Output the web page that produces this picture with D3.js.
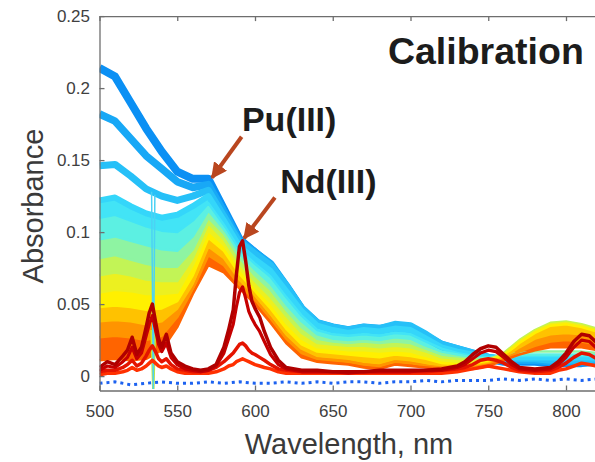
<!DOCTYPE html>
<html><head><meta charset="utf-8">
<script src="https://cdn.jsdelivr.net/npm/d3@7"></script>
<style>body{margin:0;background:#fff}svg{display:block}</style>
</head><body>
<svg id="chart" width="595" height="462"></svg>
<script>
// ---------- DATA ----------
const wavelengths = [500,510,520,530,540,550,560,570,580,590,600,610,620,630,640,650,660,670,680,690,700,710,720,730,740,750,760,770,780,790,800,810,820];
// Pu(III) calibration spectra (top = highest absorbance at 500 nm)
const pu1  = [0.214,0.208,0.190,0.172,0.156,0.142,0.137,0.137,0.116,0.095,0.086,0.077,0.062,0.046,0.036,0.033,0.031,0.033,0.032,0.034,0.033,0.027,0.021,0.018,0.015,0.012,0.010,0.010,0.010,0.009,0.009,0.009,0.010];
const pu2  = [0.182,0.177,0.165,0.153,0.144,0.135,0.131,0.133,0.114,0.094,0.086,0.078,0.063,0.047,0.037,0.034,0.032,0.034,0.033,0.035,0.034,0.028,0.022,0.019,0.016,0.013,0.011,0.011,0.011,0.010,0.010,0.010,0.011];
const pu3  = [0.146,0.147,0.139,0.130,0.125,0.122,0.125,0.129,0.111,0.093,0.085,0.077,0.063,0.047,0.037,0.034,0.032,0.034,0.033,0.036,0.035,0.029,0.022,0.019,0.016,0.013,0.012,0.012,0.012,0.011,0.011,0.011,0.012];
const pu4  = [0.122,0.124,0.118,0.113,0.110,0.112,0.118,0.125,0.108,0.090,0.081,0.073,0.059,0.045,0.035,0.032,0.030,0.032,0.031,0.033,0.032,0.026,0.020,0.017,0.015,0.013,0.012,0.013,0.013,0.013,0.013,0.013,0.013];
const pu5  = [0.110,0.112,0.108,0.104,0.101,0.100,0.108,0.120,0.105,0.088,0.078,0.069,0.055,0.042,0.032,0.029,0.028,0.029,0.028,0.030,0.029,0.024,0.019,0.016,0.014,0.013,0.013,0.014,0.014,0.014,0.014,0.014,0.014];
const pu6  = [0.095,0.097,0.094,0.091,0.088,0.087,0.097,0.115,0.102,0.085,0.074,0.064,0.050,0.038,0.029,0.026,0.025,0.026,0.025,0.027,0.026,0.021,0.017,0.015,0.013,0.012,0.014,0.015,0.015,0.015,0.015,0.015,0.015];
const pu7  = [0.082,0.084,0.081,0.078,0.076,0.076,0.088,0.110,0.099,0.082,0.070,0.060,0.046,0.034,0.026,0.024,0.023,0.024,0.023,0.024,0.023,0.019,0.015,0.013,0.012,0.012,0.015,0.016,0.017,0.017,0.017,0.017,0.016];
const pu8  = [0.070,0.072,0.070,0.067,0.066,0.066,0.082,0.106,0.095,0.078,0.066,0.055,0.042,0.030,0.023,0.022,0.021,0.021,0.020,0.021,0.020,0.017,0.013,0.012,0.011,0.011,0.016,0.025,0.032,0.037,0.038,0.036,0.033];
const pu9  = [0.058,0.060,0.059,0.057,0.057,0.058,0.077,0.101,0.091,0.075,0.062,0.051,0.037,0.026,0.020,0.019,0.018,0.018,0.017,0.018,0.017,0.014,0.011,0.010,0.010,0.011,0.015,0.024,0.031,0.036,0.037,0.035,0.032];
const pu10 = [0.048,0.049,0.048,0.046,0.047,0.052,0.070,0.096,0.087,0.071,0.059,0.047,0.033,0.022,0.017,0.016,0.015,0.014,0.013,0.015,0.014,0.012,0.009,0.008,0.008,0.010,0.014,0.023,0.030,0.035,0.036,0.034,0.031];
const pu11 = [0.038,0.039,0.038,0.036,0.038,0.047,0.064,0.090,0.082,0.067,0.056,0.043,0.029,0.019,0.014,0.013,0.012,0.010,0.009,0.012,0.011,0.009,0.007,0.007,0.007,0.009,0.013,0.020,0.026,0.029,0.030,0.029,0.027];
const pu12 = [0.027,0.028,0.027,0.025,0.028,0.041,0.060,0.084,0.077,0.063,0.053,0.040,0.026,0.016,0.012,0.011,0.010,0.008,0.007,0.010,0.009,0.007,0.006,0.006,0.006,0.008,0.012,0.017,0.021,0.024,0.025,0.024,0.022];
const pu13 = [0.011,0.012,0.011,0.012,0.018,0.034,0.057,0.077,0.072,0.061,0.050,0.037,0.023,0.013,0.010,0.009,0.008,0.006,0.005,0.008,0.007,0.006,0.005,0.005,0.005,0.007,0.011,0.015,0.018,0.020,0.020,0.020,0.018];
const puColors = ["#0b90f4","#18a8f6","#26c0f8","#34d6fa","#42e4f6","#5cf0e2","#8ef4a2","#c2f456","#ecf020","#fff000","#ffc200","#ff9400","#ff6400"];
// blank (baseline)
const blank = [-0.005,-0.004,-0.006,-0.005,-0.004,-0.005,-0.005,-0.004,-0.005,-0.004,-0.005,-0.005,-0.004,-0.005,-0.004,-0.005,-0.004,-0.004,-0.005,-0.004,-0.004,-0.003,-0.004,-0.003,-0.003,-0.003,-0.002,-0.003,-0.002,-0.003,-0.002,-0.003,-0.002];
// Nd(III) spectra on a finer grid
const ndWavelengths = [500,505,510,515,518,521,524,527,530,532,534,536,538,540,543,546,550,555,560,565,570,575,580,583,586,588,590,592,594,596,598,600,603,606,610,615,620,630,640,650,660,670,680,690,700,710,720,730,735,740,745,750,755,760,765,770,780,790,795,800,805,810,815,820];
const nd1 = [0.006,0.010,0.008,0.014,0.018,0.027,0.015,0.020,0.034,0.044,0.050,0.038,0.026,0.020,0.029,0.016,0.010,0.007,0.005,0.004,0.005,0.008,0.020,0.032,0.046,0.070,0.090,0.094,0.080,0.063,0.052,0.047,0.041,0.031,0.020,0.011,0.006,0.004,0.004,0.003,0.003,0.003,0.004,0.004,0.004,0.004,0.005,0.007,0.010,0.015,0.019,0.021,0.020,0.015,0.010,0.006,0.005,0.006,0.010,0.016,0.024,0.029,0.028,0.023];
const nd2 = [0.004,0.007,0.006,0.010,0.013,0.020,0.012,0.016,0.028,0.036,0.042,0.032,0.022,0.017,0.023,0.013,0.008,0.005,0.004,0.003,0.004,0.007,0.016,0.026,0.036,0.048,0.058,0.062,0.054,0.045,0.040,0.036,0.031,0.024,0.015,0.008,0.005,0.003,0.003,0.003,0.002,0.003,0.003,0.003,0.003,0.004,0.004,0.006,0.008,0.012,0.016,0.018,0.017,0.013,0.008,0.005,0.004,0.005,0.008,0.013,0.020,0.025,0.024,0.019];
const nd3 = [0.003,0.004,0.004,0.006,0.008,0.011,0.007,0.009,0.014,0.018,0.021,0.017,0.012,0.010,0.012,0.008,0.005,0.004,0.003,0.003,0.004,0.006,0.010,0.013,0.016,0.019,0.022,0.023,0.021,0.018,0.016,0.015,0.013,0.011,0.008,0.005,0.004,0.003,0.003,0.003,0.003,0.003,0.003,0.003,0.003,0.003,0.004,0.005,0.006,0.008,0.011,0.012,0.011,0.009,0.006,0.004,0.003,0.004,0.006,0.009,0.013,0.016,0.015,0.012];
const nd4 = [0.001,0.002,0.002,0.003,0.004,0.006,0.004,0.005,0.007,0.009,0.011,0.009,0.007,0.006,0.007,0.005,0.003,0.002,0.002,0.002,0.002,0.003,0.005,0.007,0.008,0.010,0.011,0.012,0.011,0.010,0.009,0.008,0.007,0.006,0.005,0.003,0.002,0.002,0.002,0.002,0.002,0.002,0.002,0.002,0.002,0.002,0.002,0.003,0.004,0.005,0.006,0.007,0.006,0.005,0.004,0.003,0.002,0.002,0.004,0.005,0.007,0.009,0.008,0.007];
const ndColors = ["#b00000","#c60000","#e41400","#ff3000"];
// instrument artefact at 535 nm
const spikeWavelengths = [533.5,534.6,535.6];
const spikeCyan = [0.128,-0.009,0.126];
const spikeYellow = [0.032,-0.009,0.030];
// axis ticks and labels
const xTicks = [500,550,600,650,700,750,800];
const yTicks = [0,0.05,0.1,0.15,0.2,0.25];
const annotations = [
  {text:"Calibration", lambda:685.5, value:0.2165, size:37.5},
  {text:"Pu(III)", lambda:591.6, value:0.1705, size:34},
  {text:"Nd(III)", lambda:616.2, value:0.1270, size:34}
];
const arrows = [
  {from:[591.4,0.1662], to:[572.4,0.1378]},
  {from:[612.8,0.1240], to:[593.0,0.0957]}
];

// ---------- CHART ----------
const svg = d3.select("#chart");
const x = d3.scaleLinear().domain([500,850]).range([99.5, 99.5 + 1.555*350]);
const y = d3.scaleLinear().domain([-0.01,0.25]).range([390.5,16.1]);
const puAll = [pu1,pu2,pu3,pu4,pu5,pu6,pu7,pu8,pu9,pu10,pu11,pu12,pu13];
const puWidths = [8,7.5,7,6];

svg.append("defs").append("clipPath").attr("id","plotclip")
  .append("rect").attr("x",x(500)).attr("y",y(0.25)).attr("width",600).attr("height",y(-0.01)-y(0.25));
svg.select("defs").append("marker").attr("id","arrowhead")
  .attr("viewBox","0 0 10 10").attr("refX",9).attr("refY",5)
  .attr("markerWidth",4).attr("markerHeight",4).attr("markerUnits","strokeWidth")
  .attr("orient","auto")
  .append("path").attr("d","M0,0 L10,5 L0,10 Z").attr("fill","#b9461f");

const plot = svg.append("g").attr("clip-path","url(#plotclip)");
const line = (xs) => d3.line().x((d,i)=>x(xs[i])).y(d=>y(d)).curve(d3.curveLinear);

// blank
plot.append("path").datum(blank).attr("d",line(wavelengths))
  .attr("fill","none").attr("stroke","#1d62f0").attr("stroke-width",3).attr("stroke-dasharray","3,4");

// Pu bands (merged part of the family), filled between adjacent spectra
for (let k = 4; k < puAll.length; k++) {
  const cur = puAll[k], prev = puAll[k-1];
  const area = d3.area().x((d,i)=>x(wavelengths[i]))
    .y1((d,i)=>y(cur[i]))
    .y0((d,i)=>y(Math.max(prev[i],cur[i])));
  plot.append("path").datum(cur).attr("d",area).attr("fill",puColors[k]);
}
// Pu lines
puAll.forEach((s,k)=>{
  plot.append("path").datum(s).attr("d",line(wavelengths))
    .attr("fill","none").attr("stroke",puColors[k])
    .attr("stroke-width", k<4 ? puWidths[k] : 2.5).attr("stroke-linejoin","round");
});
// spike artefact
plot.append("path").datum(spikeYellow).attr("d",line(spikeWavelengths))
  .attr("fill","none").attr("stroke","#c8e830").attr("stroke-width",2.5);
plot.append("path").datum(spikeCyan).attr("d",line(spikeWavelengths))
  .attr("fill","none").attr("stroke","#4cd2f4").attr("stroke-width",1.5);

// Nd lines
const ndAll = [nd1,nd2,nd3,nd4];
const ndWidths = [3.5,3.2,3.5,3.5];
[3,2,1,0].forEach(k=>{
  plot.append("path").datum(ndAll[k]).attr("d",line(ndWavelengths))
    .attr("fill","none").attr("stroke",ndColors[k])
    .attr("stroke-width", ndWidths[k]).attr("stroke-linejoin","round");
});

// ---------- AXES ----------
const axisColor = "#6e6e6e";
const fmtY = d => String(+d.toFixed(2));
const gx = svg.append("g").attr("transform",`translate(0,${y(-0.01)})`)
  .call(d3.axisBottom(x).tickValues(xTicks).tickSize(-5).tickSizeOuter(0).tickPadding(14.5));
const gt = svg.append("g").attr("transform",`translate(0,${y(0.25)})`)
  .call(d3.axisTop(x).tickValues(xTicks).tickSize(-5).tickSizeOuter(0).tickFormat(""));
const gy = svg.append("g").attr("transform",`translate(${x(500)},0)`)
  .call(d3.axisLeft(y).tickValues(yTicks).tickSize(-5).tickSizeOuter(0).tickPadding(9.5).tickFormat(fmtY));
[gx,gt,gy].forEach(g=>{
  g.select(".domain").attr("stroke",axisColor).attr("stroke-width",1.3);
  g.selectAll(".tick line").attr("stroke",axisColor).attr("stroke-width",1.3);
  g.selectAll("text").attr("fill","#404040").attr("font-size",17)
    .attr("font-family","'Liberation Sans', Arial, sans-serif");
});

// axis titles
svg.append("text").attr("x",349).attr("y",454).attr("text-anchor","middle")
  .attr("font-family","'Liberation Sans', Arial, sans-serif").attr("font-size",29).attr("fill","#3a3a3a")
  .text("Wavelength, nm");
svg.append("text").attr("transform","translate(43,206) rotate(-90)").attr("text-anchor","middle")
  .attr("font-family","'Liberation Sans', Arial, sans-serif").attr("font-size",29).attr("fill","#3a3a3a")
  .text("Absorbance");

// annotations
annotations.forEach(a=>{
  svg.append("text").attr("x",x(a.lambda)).attr("y",y(a.value))
    .attr("font-family","'Liberation Sans', Arial, sans-serif").attr("font-weight","bold")
    .attr("font-size",a.size).attr("fill","#1c1c1c").text(a.text);
});
arrows.forEach(a=>{
  svg.append("line").attr("x1",x(a.from[0])).attr("y1",y(a.from[1]))
    .attr("x2",x(a.to[0])).attr("y2",y(a.to[1]))
    .attr("stroke","#b9461f").attr("stroke-width",4).attr("marker-end","url(#arrowhead)");
});
</script>
</body></html>
